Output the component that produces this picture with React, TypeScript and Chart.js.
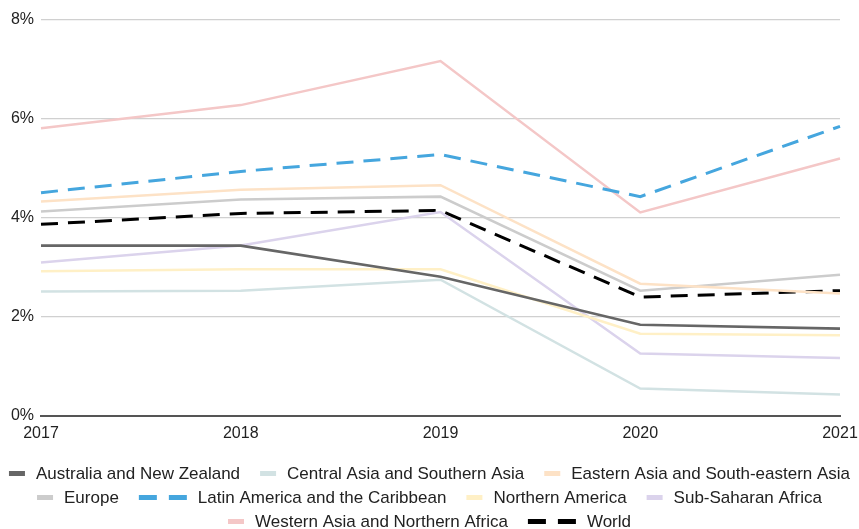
import React, { useEffect, useRef } from 'react';
import { Chart, registerables } from 'chart.js';

Chart.register(...registerables);

const years = ['2017', '2018', '2019', '2020', '2021'];
const australiaNZ = [3.44, 3.44, 2.81, 1.84, 1.76];
const centralSouthAsia = [2.51, 2.53, 2.75, 0.55, 0.43];
const eastSEAsia = [4.33, 4.57, 4.66, 2.67, 2.47];
const europe = [4.13, 4.37, 4.43, 2.53, 2.85];
const latinAmerica = [4.51, 4.94, 5.28, 4.43, 5.85];
const northernAmerica = [2.92, 2.96, 2.96, 1.66, 1.63];
const subSaharan = [3.1, 3.44, 4.12, 1.26, 1.17];
const westernAsiaNA = [5.81, 6.28, 7.17, 4.11, 5.2];
const world = [3.87, 4.09, 4.15, 2.4, 2.53];
const yTickValues = [0, 2, 4, 6, 8];

const FONT = '"Liberation Sans", Arial, sans-serif';
const TEXT = '#222222';

const legendPlugin = {
  id: 'customLegend',
  afterDraw(chart: any) {
    const ctx = chart.ctx as CanvasRenderingContext2D;
    ctx.save();
    ctx.font = `17px ${FONT}`;
    ctx.textBaseline = 'middle';
    ctx.textAlign = 'left';
    const items = chart.data.datasets.map((ds: any) => ({
      label: ds.label as string,
      color: ds.borderColor as string,
      dashed: Array.isArray(ds.borderDash) && ds.borderDash.length > 0,
    }));
    const gap = 11;
    const spacing = 20;
    const mw = (d: boolean) => (d ? 48 : 16);
    const widths = items.map((it: any) => mw(it.dashed) + gap + ctx.measureText(it.label).width);
    const maxW = chart.width - 10;
    const rows: number[][] = [];
    let cur: number[] = [];
    let curW = 0;
    items.forEach((_: any, i: number) => {
      const w = widths[i] + (cur.length ? spacing : 0);
      if (cur.length && curW + w > maxW) {
        rows.push(cur);
        cur = [i];
        curW = widths[i];
      } else {
        cur.push(i);
        curW += w;
      }
    });
    if (cur.length) rows.push(cur);
    let y = 473.5;
    rows.forEach((row) => {
      const total = row.reduce((s, i) => s + widths[i], 0) + spacing * (row.length - 1);
      let x = (chart.width - total) / 2;
      row.forEach((i) => {
        const it = items[i];
        ctx.fillStyle = it.color;
        if (it.dashed) {
          ctx.fillRect(x, y - 2.5, 18, 5);
          ctx.fillRect(x + 30, y - 2.5, 18, 5);
        } else {
          ctx.fillRect(x, y - 2.5, 16, 5);
        }
        ctx.fillStyle = TEXT;
        ctx.fillText(it.label, x + mw(it.dashed) + gap, y + 0.5);
        x += widths[i] + spacing;
      });
      y += 24;
    });
    ctx.restore();
  },
};

export default function App() {
  const ref = useRef<HTMLCanvasElement | null>(null);
  useEffect(() => {
    if (!ref.current) return;
    const mk = (label: string, data: number[], color: string, dashed = false, width = 2.5) => ({
      label,
      data,
      borderColor: color,
      backgroundColor: color,
      borderWidth: width,
      borderDash: dashed ? [17, 10] : [],
      pointRadius: 0,
      pointHoverRadius: 0,
      tension: 0,
      fill: false,
    });
    const chart = new Chart(ref.current, {
      type: 'line',
      data: {
        labels: years,
        datasets: [
          mk('Australia and New Zealand', australiaNZ, '#666666', false, 2.7),
          mk('Central Asia and Southern Asia', centralSouthAsia, '#d2e2e3'),
          mk('Eastern Asia and South-eastern Asia', eastSEAsia, '#fde2c6'),
          mk('Europe', europe, '#cccccc'),
          mk('Latin America and the Caribbean', latinAmerica, '#45a6de', true, 3),
          mk('Northern America', northernAmerica, '#fff0c6'),
          mk('Sub-Saharan Africa', subSaharan, '#dbd3ec'),
          mk('Western Asia and Northern Africa', westernAsiaNA, '#f4c7c7'),
          mk('World', world, '#000000', true, 3),
        ],
      },
      options: {
        responsive: false,
        animation: false,
        layout: { padding: { left: 0, right: 19, top: 20, bottom: 78 } },
        plugins: { legend: { display: false }, tooltip: { enabled: false } },
        scales: {
          x: {
            afterFit: (scale: any) => {
              scale.paddingLeft = 0;
              scale.paddingRight = 0;
            },
            grid: { display: false, drawTicks: false },
            border: { display: true, color: '#555555', width: 2 },
            ticks: { color: TEXT, font: { size: 16, family: FONT }, padding: 8, maxRotation: 0, autoSkip: false },
          },
          y: {
            min: 0,
            max: 8,
            afterBuildTicks: (scale: any) => {
              scale.ticks = yTickValues.map((v) => ({ value: v }));
            },
            afterFit: (scale: any) => {
              scale.width = 41;
            },
            grid: { color: '#d0d0d0', lineWidth: 1.2, drawTicks: false },
            border: { display: false },
            ticks: {
              color: TEXT,
              font: { size: 16, family: FONT },
              padding: 7,
              callback: (v: any) => `${v}%`,
            },
          },
        },
      },
      plugins: [legendPlugin],
    });
    return () => chart.destroy();
  }, []);
  return (
    <div style={{ position: 'fixed', left: 0, top: 0, width: 859, height: 529, background: '#fff' }}>
      <canvas ref={ref} width={859} height={529} style={{ display: 'block' }} />
    </div>
  );
}
